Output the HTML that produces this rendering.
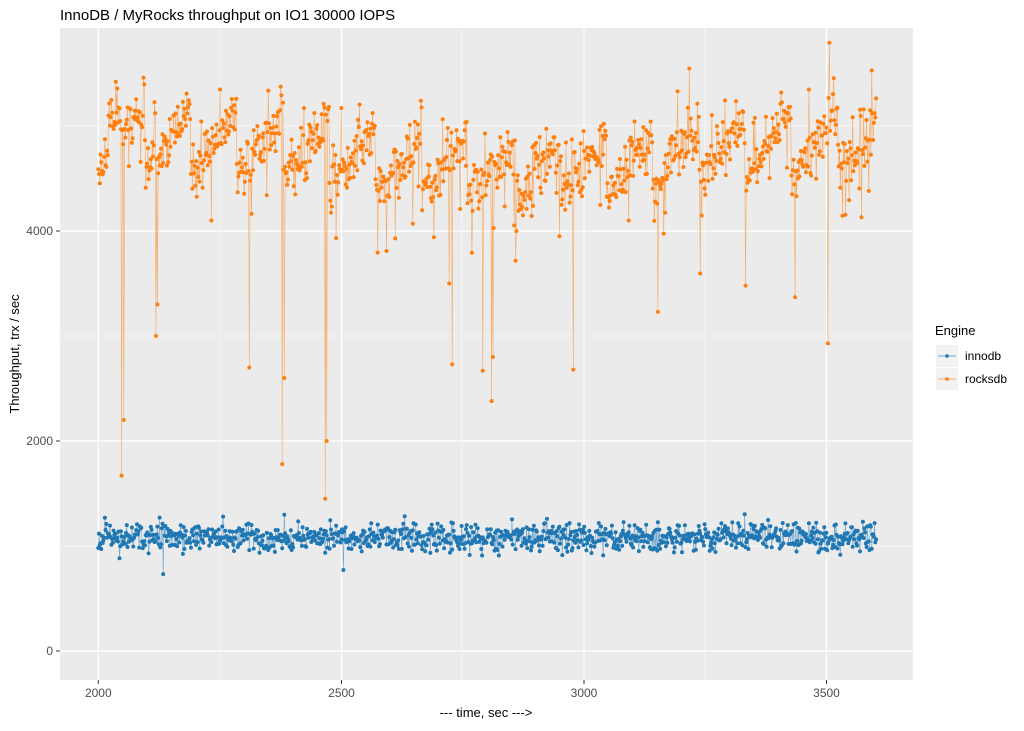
<!DOCTYPE html>
<html><head><meta charset="utf-8"><style>
body{margin:0;background:#fff;font-family:"Liberation Sans",Arial,sans-serif}
</style></head><body>
<svg id="s" width="1024" height="726" xmlns="http://www.w3.org/2000/svg" font-family="Liberation Sans, Arial, sans-serif">
<rect x="60" y="28" width="853" height="652" fill="#ebebeb"/>
<g stroke="#fff" stroke-width="0.6">
<line x1="60" x2="913" y1="546" y2="546"/><line x1="60" x2="913" y1="336" y2="336"/><line x1="60" x2="913" y1="126" y2="126"/>
<line x1="220" x2="220" y1="28" y2="680"/><line x1="462" x2="462" y1="28" y2="680"/><line x1="705" x2="705" y1="28" y2="680"/>
</g>
<g stroke="#fff" stroke-width="1.2">
<line x1="60" x2="913" y1="651" y2="651"/><line x1="60" x2="913" y1="441" y2="441"/><line x1="60" x2="913" y1="231" y2="231"/>
<line x1="98.3" x2="98.3" y1="28" y2="680"/><line x1="341.5" x2="341.5" y1="28" y2="680"/><line x1="584" x2="584" y1="28" y2="680"/><line x1="826.5" x2="826.5" y1="28" y2="680"/>
</g>
<g id="data"></g>
<g stroke="#333" stroke-width="1">
<line x1="56" x2="60" y1="651" y2="651"/><line x1="56" x2="60" y1="441" y2="441"/><line x1="56" x2="60" y1="231" y2="231"/>
<line x1="98.3" x2="98.3" y1="680" y2="684"/><line x1="341.5" x2="341.5" y1="680" y2="684"/><line x1="584" x2="584" y1="680" y2="684"/><line x1="826.5" x2="826.5" y1="680" y2="684"/>
</g>
<g font-size="12" fill="#4d4d4d" text-anchor="end">
<text x="53" y="655">0</text><text x="53" y="445">2000</text><text x="53" y="235">4000</text>
</g>
<g font-size="12" fill="#4d4d4d" text-anchor="middle">
<text x="98.3" y="697">2000</text><text x="341.5" y="697">2500</text><text x="584" y="697">3000</text><text x="826.5" y="697">3500</text>
</g>
<text x="486" y="717" font-size="13" text-anchor="middle" fill="#000">--- time, sec ---&gt;</text>
<text transform="translate(19,354) rotate(-90)" font-size="13" text-anchor="middle" fill="#000">Throughput, trx / sec</text>
<text x="60" y="20" font-size="15" fill="#000">InnoDB / MyRocks throughput on IO1 30000 IOPS</text>
<text x="935" y="335" font-size="13" fill="#000">Engine</text>
<rect x="936" y="345" width="22" height="22" fill="#f2f2f2"/><rect x="936" y="368" width="22" height="22" fill="#f2f2f2"/>
<line x1="938" x2="956" y1="356" y2="356" stroke="#1f77b4" stroke-opacity="0.6"/><circle cx="947" cy="356" r="1.8" fill="#1f77b4"/>
<line x1="938" x2="956" y1="379" y2="379" stroke="#ff7f0e" stroke-opacity="0.6"/><circle cx="947" cy="379" r="1.8" fill="#ff7f0e"/>
<text x="965" y="360" font-size="12" fill="#000">innodb</text>
<text x="965" y="383" font-size="12" fill="#000">rocksdb</text>
</svg>
<script>
var seed=11;function r(){seed=(seed*16807)%2147483647;return seed/2147483647;}
function g(){return (r()+r()+r()-1.5)*1.4;}
function X(t){return 98.3+(t-2000)*0.48640;}
function Y(v){return 651-v*0.105;}
var ns="http://www.w3.org/2000/svg",G=document.getElementById("data");
function series(arr,col){
 var d="";arr.forEach(function(p,i){d+=(i?"L":"M")+X(p[0]).toFixed(1)+","+Y(p[1]).toFixed(1);});
 var pa=document.createElementNS(ns,"path");pa.setAttribute("d",d);pa.setAttribute("fill","none");
 pa.setAttribute("stroke",col);pa.setAttribute("stroke-width","0.6");pa.setAttribute("stroke-opacity","0.6");G.appendChild(pa);
 var s="";arr.forEach(function(p){var x=X(p[0]),y=Y(p[1]);s+="M"+(x-2).toFixed(1)+","+y.toFixed(1)+"a2,2 0 1,0 4,0a2,2 0 1,0 -4,0";});
 var c=document.createElementNS(ns,"path");c.setAttribute("d",s);c.setAttribute("fill",col);G.appendChild(c);
}
var inn=[],rk=[];
for(var t=2000;t<=3600;t+=1.5){var v=1080+g()*95;if(r()<0.03)v+=(r()-0.5)*450;inn.push([t,v]);}
var dips=[[2048,1670],[2052,2200],[2118,3000],[2122,3300],[2310,2700],[2378,1780],[2382,2600],[2466,1450],[2470,2000],[2728,2730],[2790,2670],[2808,2380],[2812,2800],[2976,2680],[3150,3230],[3330,3480],[3432,3370],[3500,2930],[2722,3500],[2610,3930],[2948,3950],[2232,4100],[2860,4000],[3090,4100]];
var base=4700;
for(var t=2000;t<=3600;t+=1.5){
 var ph=((t-2000)%95)/95;
 var v=4430+ph*600+g()*190+150*Math.sin(t/260);
 if(t>2020&&t<2050)v+=300;
 if(r()<0.05)v+=250+r()*300;
 if(r()<0.03)v-=300+r()*300;
 for(var k=0;k<dips.length;k++){if(Math.abs(dips[k][0]-t)<1)v=dips[k][1];}
 rk.push([t,v]);
}
series(rk,"#ff7f0e");series(inn,"#1f77b4");
</script>
</body></html>
